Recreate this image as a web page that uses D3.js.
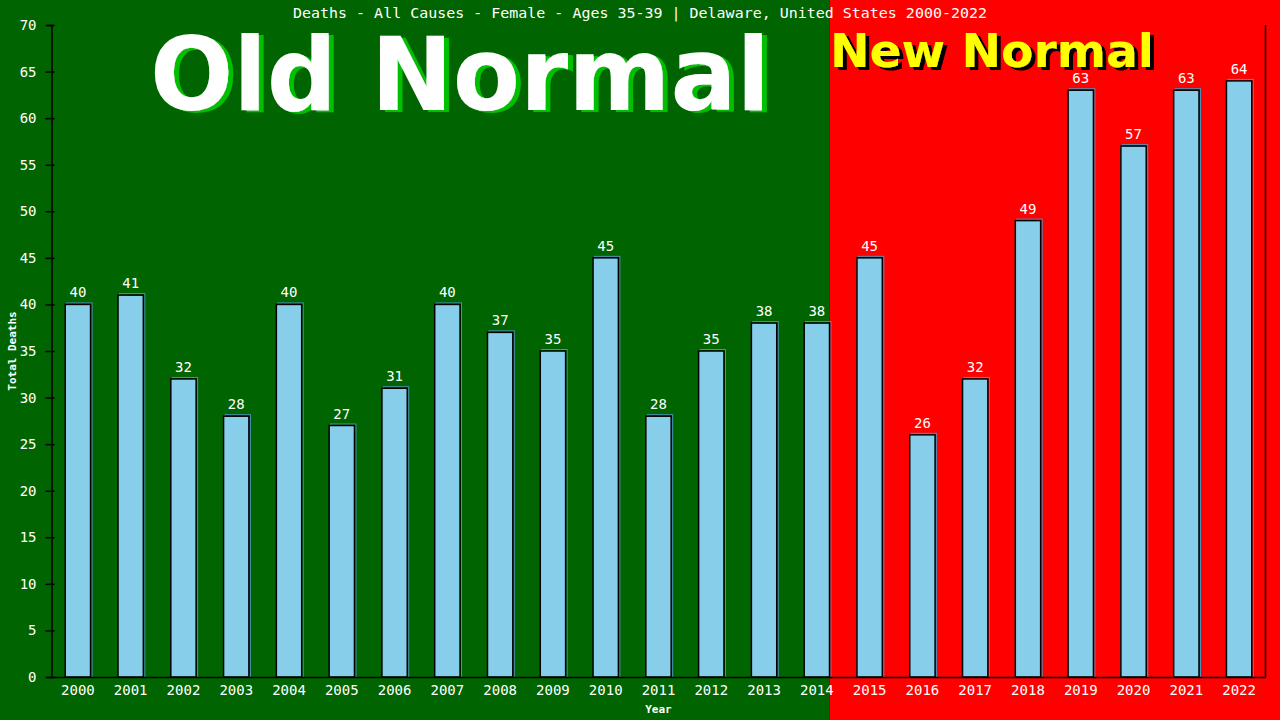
<!DOCTYPE html>
<html>
<head>
<meta charset="utf-8">
<script src="https://cdn.jsdelivr.net/npm/d3@7"></script>
<style>
  body { margin: 0; background: #000; }
  text { font-family: "DejaVu Sans Mono", monospace; }
</style>
</head>
<body>
<svg width="1280" height="720"></svg>
<script>
// chart data
const years = ['2000','2001','2002','2003','2004','2005','2006','2007','2008','2009','2010','2011',
  '2012','2013','2014','2015','2016','2017','2018','2019','2020','2021','2022'];
const deaths = [40, 41, 32, 28, 40, 27, 31, 40, 37, 35, 45, 28, 35, 38, 38, 45, 26, 32, 49, 63, 57, 63, 64];
const yTicks = [0, 5, 10, 15, 20, 25, 30, 35, 40, 45, 50, 55, 60, 65, 70];
const firstNewYear = '2015';
const title = 'Deaths - All Causes - Female - Ages 35-39 | Delaware, United States 2000-2022';

let svg = d3.select('svg'),
  width = +svg.attr('width'),
  height = +svg.attr('height');

let plotLeft = 51.5, plotRight = 1265.5, plotTop = 25, plotBottom = 677;

let x = d3.scaleBand().domain(years).range([plotLeft, plotRight]).paddingInner(0.52).paddingOuter(0.26);
let y = d3.scaleLinear().domain([0, 70]).range([plotBottom, plotTop]);

let split = x(firstNewYear) - x.step() * x.paddingInner();

// shadow filters for the big labels
let defs = svg.append('defs');
function shadow(id, color, dx, dy) {
  let f = defs.append('filter').attr('id', id)
    .attr('x', '-5%').attr('y', '-10%').attr('width', '115%').attr('height', '130%');
  f.append('feFlood').attr('flood-color', color).attr('result', 'c');
  f.append('feComposite').attr('in', 'c').attr('in2', 'SourceAlpha').attr('operator', 'in').attr('result', 's');
  f.append('feOffset').attr('in', 's').attr('dx', dx).attr('dy', dy).attr('result', 'o');
  let m = f.append('feMerge');
  m.append('feMergeNode').attr('in', 'o');
  m.append('feMergeNode').attr('in', 'SourceGraphic');
}
shadow('greenShadow', '#00c000', 5, 2);
shadow('blackShadow', '#000000', 4, 3);

// backgrounds
svg.append('rect').attr('x', 0).attr('y', 0).attr('width', split).attr('height', height).attr('fill', '#006400');
svg.append('rect').attr('x', split).attr('y', 0).attr('width', width - split).attr('height', height).attr('fill', '#ff0000');

// big labels
svg.append('text')
  .attr('x', 150).attr('y', 110)
  .attr('textLength', 620).attr('lengthAdjust', 'spacingAndGlyphs')
  .attr('filter', 'url(#greenShadow)')
  .style('font-family', '"DejaVu Sans", sans-serif').style('font-weight', 'bold').style('font-size', '102px')
  .attr('fill', '#ffffff').text('Old Normal');

svg.append('text')
  .attr('x', 830).attr('y', 67)
  .attr('textLength', 324).attr('lengthAdjust', 'spacingAndGlyphs')
  .attr('filter', 'url(#blackShadow)')
  .style('font-family', '"DejaVu Sans", sans-serif').style('font-weight', 'bold').style('font-size', '47px')
  .attr('fill', '#ffff00').text('New Normal');

// title
svg.append('text')
  .attr('x', 640).attr('y', 18)
  .attr('text-anchor', 'middle')
  .attr('fill', '#fff')
  .style('font-size', '14.5px')
  .attr('textLength', 694).attr('lengthAdjust', 'spacingAndGlyphs')
  .text(title);

// bars
let bars = svg.append('g').selectAll('g')
  .data(deaths)
  .enter().append('g');

bars.append('rect')
  .attr('x', (d, i) => x(years[i]) + 1.5)
  .attr('y', d => y(d) - 1.5)
  .attr('width', x.bandwidth())
  .attr('height', d => plotBottom - y(d) + 1.5)
  .attr('fill', 'none')
  .attr('stroke', '#4f8fb8')
  .attr('stroke-width', 1);

bars.append('rect')
  .attr('x', (d, i) => x(years[i]))
  .attr('y', d => y(d))
  .attr('width', x.bandwidth())
  .attr('height', d => plotBottom - y(d))
  .attr('fill', '#87ceeb')
  .attr('stroke', '#000')
  .attr('stroke-width', 1.5);

bars.append('text')
  .attr('x', (d, i) => x(years[i]) + x.bandwidth() / 2)
  .attr('y', d => y(d) - 7)
  .attr('text-anchor', 'middle')
  .attr('fill', '#fff')
  .style('font-size', '14px')
  .text(d => d);

// axes
let yAxis = svg.append('g')
  .attr('transform', 'translate(' + plotLeft + ',0)')
  .call(d3.axisLeft(y).tickValues(yTicks).tickSize(5).tickPadding(10));
yAxis.select('.domain').attr('stroke', '#000').attr('stroke-width', 1.5);
yAxis.selectAll('.tick line').attr('x1', 3).attr('x2', -6).attr('stroke', '#000').attr('stroke-width', 1.5);
yAxis.selectAll('.tick text').attr('fill', '#fff').style('font-size', '14px')
  .style('font-family', '"DejaVu Sans Mono", monospace');

let xAxis = svg.append('g')
  .attr('transform', 'translate(0,' + plotBottom + ')')
  .call(d3.axisBottom(x).tickSize(0).tickPadding(8).tickSizeOuter(0));
xAxis.select('.domain').attr('stroke', '#000').attr('stroke-width', 1.5);
xAxis.selectAll('.tick text').attr('fill', '#fff').style('font-size', '14px')
  .style('font-family', '"DejaVu Sans Mono", monospace');

// right border
svg.append('line')
  .attr('x1', plotRight).attr('x2', plotRight).attr('y1', plotTop).attr('y2', plotBottom)
  .attr('stroke', '#000').attr('stroke-width', 1.5);

// axis titles
svg.append('text')
  .attr('x', (plotLeft + plotRight) / 2).attr('y', 713)
  .attr('text-anchor', 'middle').attr('fill', '#fff')
  .style('font-size', '11px').style('font-weight', 'bold')
  .text('Year');
svg.append('text')
  .attr('transform', 'translate(16,' + (plotTop + plotBottom) / 2 + ') rotate(-90)')
  .attr('text-anchor', 'middle').attr('fill', '#fff')
  .style('font-size', '11px').style('font-weight', 'bold')
  .text('Total Deaths');
</script>
</body>
</html>
